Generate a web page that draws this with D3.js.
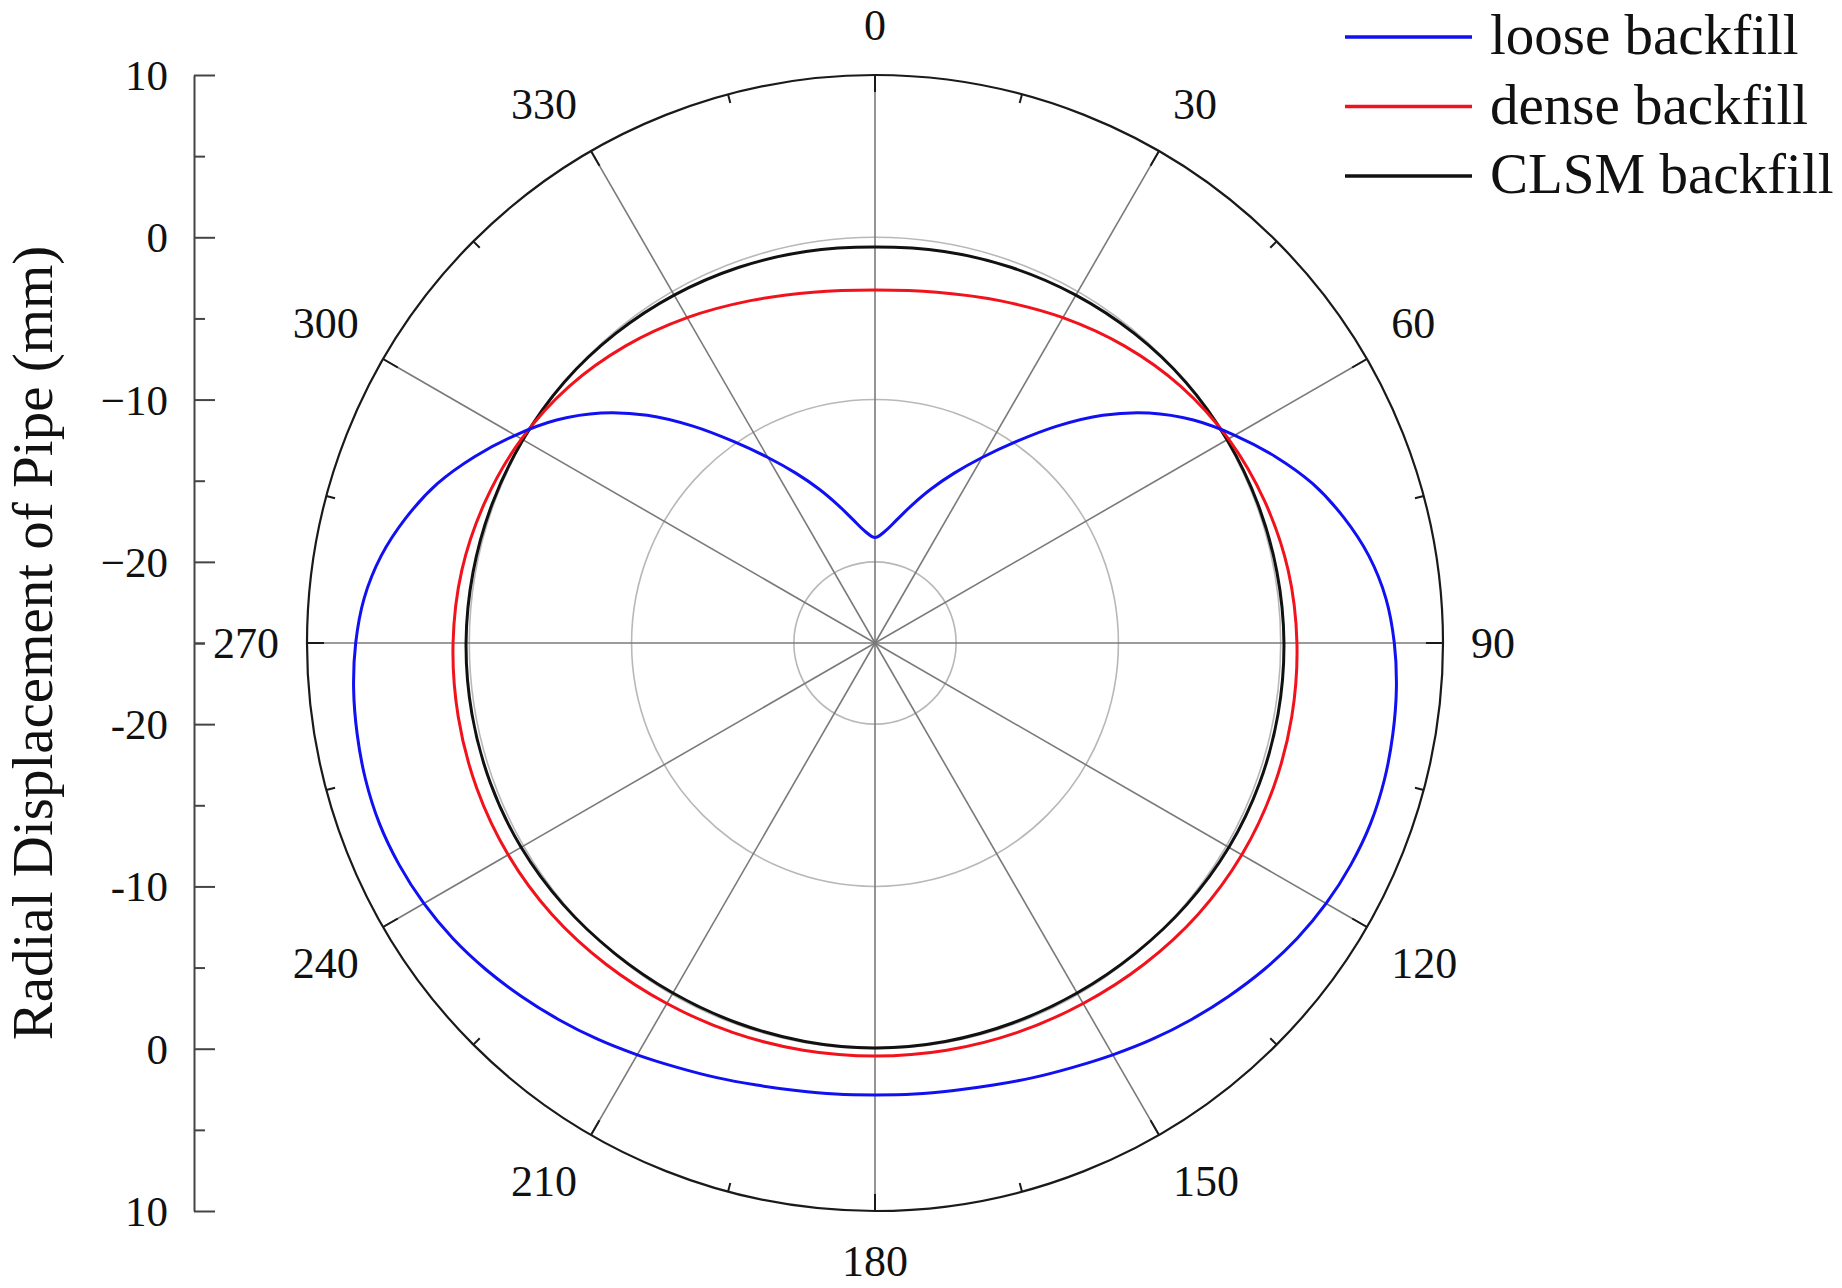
<!DOCTYPE html>
<html>
<head>
<meta charset="utf-8">
<script src="https://cdn.jsdelivr.net/npm/d3@7"></script>
<style>
  body { margin: 0; background: #fff; }
  text { font-family: "Liberation Serif", "Times New Roman", serif; fill: #111; }
</style>
</head>
<body>
<script>
const svgWidth = 1842,
    svgHeight = 1288,
    cx = 875,
    cy = 643,
    R = 568;

// angles in degrees, 0 at top, clockwise
const anglesFine = [0, 5, 10, 15, 20, 25, 30, 35, 40, 45, 50, 55, 60, 65, 70, 75, 80, 85,
    90, 95, 100, 105, 110, 115, 120, 125, 130, 135, 140, 145, 150, 155, 160, 165, 170, 175,
    180, 185, 190, 195, 200, 205, 210, 215, 220, 225, 230, 235, 240, 245, 250, 255, 260, 265,
    270, 275, 280, 285, 290, 295, 300, 305, 310, 315, 320, 325, 330, 335, 340, 345, 350, 355];
const anglesCoarse = [0, 10, 20, 30, 40, 50, 60, 70, 80, 90, 100, 110, 120, 130, 140, 150, 160, 170,
    180, 190, 200, 210, 220, 230, 240, 250, 260, 270, 280, 290, 300, 310, 320, 330, 340, 350];

// radial displacement (mm)
const looseValues = [-18.5, -18.1, -17.3, -16.2, -14.9, -13.45, -11.8, -9.85, -7.55, -5.15, -2.95, -1.05,
    0.6, 2.2, 3.7, 4.9, 5.9, 6.6, 7.0, 7.25, 7.4, 7.5, 7.5, 7.35, 7.1, 6.75, 6.3, 5.8, 5.3, 4.8,
    4.3, 3.85, 3.5, 3.2, 3.0, 2.9, 2.85, 2.9, 3.0, 3.2, 3.5, 3.85, 4.3, 4.8, 5.3, 5.8, 6.3, 6.75,
    7.1, 7.35, 7.5, 7.5, 7.4, 7.25, 7.0, 6.6, 5.9, 4.9, 3.7, 2.2, 0.6, -1.05, -2.95, -5.15, -7.55,
    -9.85, -11.8, -13.45, -14.9, -16.2, -17.3, -18.1];
const denseValues = [-3.25, -3.05, -2.55, -1.85, -1.1, -0.4, 0.15, 0.55, 0.85, 1.0, 1.08, 1.12, 1.1,
    1.0, 0.82, 0.65, 0.55, 0.48, 0.45, 0.48, 0.55, 0.65, 0.82, 1.0, 1.1, 1.12, 1.08, 1.0, 0.85,
    0.55, 0.15, -0.4, -1.1, -1.85, -2.55, -3.05];
const clsmValues = [-0.6, -0.5, -0.38, -0.25, -0.12, 0.0, 0.05, 0.1, 0.15, 0.2, 0.22, 0.22, 0.18,
    0.08, -0.04, -0.1, -0.1, -0.07, -0.05, -0.07, -0.1, -0.1, -0.04, 0.08, 0.18, 0.22, 0.22,
    0.2, 0.15, 0.1, 0.05, 0.0, -0.12, -0.25, -0.38, -0.5];

const seriesNames = ["loose backfill", "dense backfill", "CLSM backfill"];
const seriesColors = ["#1010f2", "#f2121c", "#111111"];

const angleTicks = [0, 30, 60, 90, 120, 150, 180, 210, 240, 270, 300, 330];
const gridValues = [-20, -10, 0];
const upperTicks = [10, 0, -10, -20],
    upperLabels = ["10", "0", "\u221210", "\u221220"];
const lowerTicks = [-20, -10, 0, 10],
    lowerLabels = ["-20", "-10", "0", "10"];
const minorTicks = [5, -5, -15, -25];

var svg = d3.select("body").append("svg")
    .attr("width", svgWidth)
    .attr("height", svgHeight);

var r = d3.scaleLinear().domain([-25, 10]).range([0, R]);

var polar = svg.append("g").attr("transform", "translate(" + cx + "," + cy + ")");

function rad(d) { return d * Math.PI / 180; }

// grid circles
polar.selectAll(".grid")
    .data(gridValues)
    .enter().append("circle")
    .attr("r", function (d) { return r(d); })
    .attr("fill", "none")
    .attr("stroke", "#b8b8b8")
    .attr("stroke-width", 1.6);

// spokes
polar.selectAll(".spoke")
    .data(angleTicks)
    .enter().append("line")
    .attr("x1", 0).attr("y1", 0)
    .attr("x2", function (d) { return R * Math.sin(rad(d)); })
    .attr("y2", function (d) { return -R * Math.cos(rad(d)); })
    .attr("stroke", "#7a7a7a")
    .attr("stroke-width", 1.6);

// outer circle
polar.append("circle")
    .attr("r", R)
    .attr("fill", "none")
    .attr("stroke", "#1a1a1a")
    .attr("stroke-width", 2.2);

// ticks on the outer circle
polar.selectAll(".otick")
    .data(d3.range(0, 360, 15))
    .enter().append("line")
    .attr("x1", function (d) { return R * Math.sin(rad(d)); })
    .attr("y1", function (d) { return -R * Math.cos(rad(d)); })
    .attr("x2", function (d) { var l = d % 30 === 0 ? 17 : 9; return (R - l) * Math.sin(rad(d)); })
    .attr("y2", function (d) { var l = d % 30 === 0 ? 17 : 9; return -(R - l) * Math.cos(rad(d)); })
    .attr("stroke", "#1a1a1a")
    .attr("stroke-width", 2);

// angle labels: the label box corner nearest the plot sits on a ring just outside
function sgn(v) { return Math.abs(v) < 1e-6 ? 0 : (v > 0 ? 1 : -1); }

polar.selectAll(".alabel")
    .data(angleTicks)
    .enter().append("text")
    .attr("text-anchor", "middle")
    .attr("dominant-baseline", "central")
    .attr("font-size", 44)
    .text(function (d) { return d; })
    .each(function (d) {
        var hw = this.getComputedTextLength() / 2,
            ux = Math.sin(rad(d)),
            uy = -Math.cos(rad(d));
        d3.select(this)
            .attr("x", 596 * ux + hw * sgn(ux))
            .attr("y", 596 * uy + 22 * sgn(uy));
    });

// curves
var series = [
    { angles: anglesCoarse, values: clsmValues, color: seriesColors[2] },
    { angles: anglesCoarse, values: denseValues, color: seriesColors[1] },
    { angles: anglesFine, values: looseValues, color: seriesColors[0] }
];

var radial = d3.lineRadial()
    .angle(function (d) { return rad(d[0]); })
    .radius(function (d) { return r(d[1]); })
    .curve(d3.curveCatmullRomClosed.alpha(0.5));

polar.selectAll(".curve")
    .data(series)
    .enter().append("path")
    .attr("d", function (s) { return radial(s.angles.map(function (a, i) { return [a, s.values[i]]; })); })
    .attr("fill", "none")
    .attr("stroke", function (s) { return s.color; })
    .attr("stroke-width", 3);

// left radial axis (mirrored)
var yUp = d3.scaleLinear().domain([-25, 10]).range([cy, cy - R]);
var yDown = d3.scaleLinear().domain([-25, 10]).range([cy, cy + R]);

var axisG = svg.append("g").attr("transform", "translate(194,0)");

[[yUp, upperTicks, upperLabels], [yDown, lowerTicks, lowerLabels]].forEach(function (a) {
    var g = axisG.append("g")
        .call(d3.axisLeft(a[0])
            .tickValues(a[1])
            .tickFormat(function (d, i) { return a[2][i]; })
            .tickSizeInner(-21)
            .tickSizeOuter(0)
            .tickPadding(26));
    g.attr("font-family", null).attr("font-size", null);
    g.selectAll("text").attr("font-size", 43).attr("dy", null).attr("dominant-baseline", "central");
    g.select(".domain").attr("stroke", "#444").attr("stroke-width", 2);
    g.selectAll(".tick line").attr("stroke", "#444").attr("stroke-width", 2);

    var m = axisG.append("g")
        .call(d3.axisLeft(a[0]).tickValues(minorTicks).tickFormat("").tickSizeInner(-11).tickSizeOuter(0));
    m.select(".domain").remove();
    m.selectAll(".tick line").attr("stroke", "#444").attr("stroke-width", 2);
});

svg.append("text")
    .attr("transform", "translate(52," + cy + ") rotate(-90)")
    .attr("text-anchor", "middle")
    .attr("font-size", 57)
    .text("Radial Displacement of Pipe (mm)");

// legend
var legend = svg.selectAll(".legend")
    .data(seriesNames)
    .enter().append("g")
    .attr("transform", function (d, i) { return "translate(1345," + (37 + i * 69.5) + ")"; });

legend.append("line")
    .attr("x1", 0).attr("x2", 127)
    .attr("stroke", function (d, i) { return seriesColors[i]; })
    .attr("stroke-width", 3.5);

legend.append("text")
    .attr("x", 145)
    .attr("dy", "0.3em")
    .attr("font-size", 57)
    .text(function (d) { return d; });
</script>
</body>
</html>
